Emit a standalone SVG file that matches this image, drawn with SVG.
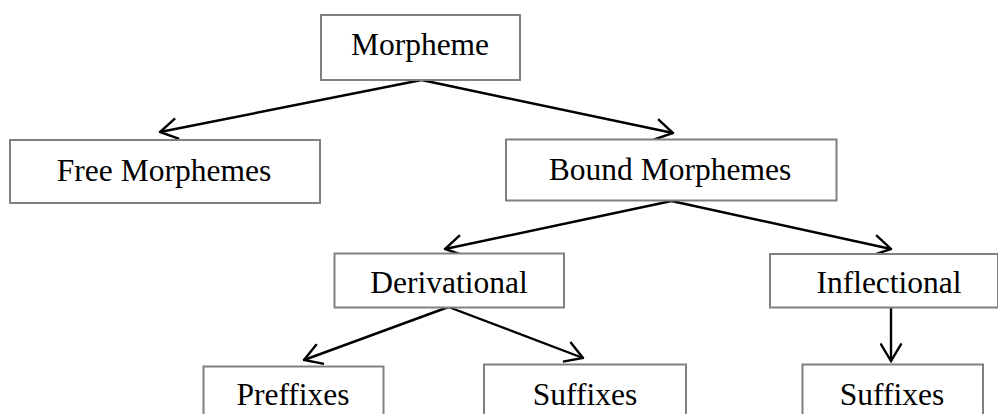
<svg xmlns="http://www.w3.org/2000/svg" width="998" height="414" viewBox="0 0 998 414">
<style>
.box{fill:#fff;stroke:#808080;stroke-width:2}
.lbl{font-family:"Liberation Serif","Times New Roman",serif;font-size:31.5px;fill:#000;text-anchor:middle}
.edge{fill:none;stroke:#000;stroke-width:2.4;marker-end:url(#arr)}
</style>
<defs>
<marker id="arr" markerUnits="userSpaceOnUse" viewBox="-1 -1 20 23" markerWidth="20" markerHeight="23" refX="17.5" refY="10.5" orient="auto">
<path d="M0,0 L17.5,10.5 L0,21" fill="none" stroke="#000" stroke-width="2.4"/>
</marker>
</defs>
<g id="connectors">
<line class="edge" x1="421.5" y1="80" x2="160" y2="132"/>
<line class="edge" x1="421.5" y1="80" x2="673" y2="133"/>
<line class="edge" x1="671.5" y1="201" x2="445" y2="249"/>
<line class="edge" x1="671.5" y1="201" x2="891" y2="249"/>
<line class="edge" x1="448.5" y1="307" x2="304" y2="360"/>
<line class="edge" x1="448.5" y1="307" x2="583" y2="358"/>
<line class="edge" x1="891" y1="307" x2="891" y2="361"/>
</g>
<g id="morpheme"><rect class="box" x="321" y="15" width="199" height="65"/><text class="lbl" x="420" y="55">Morpheme</text></g>
<g id="free"><rect class="box" x="10" y="140" width="310" height="63"/><text class="lbl" x="164" y="181">Free Morphemes</text></g>
<g id="bound"><rect class="box" x="506" y="139.5" width="330.5" height="61"/><text class="lbl" x="670" y="180">Bound Morphemes</text></g>
<g id="derivational"><rect class="box" x="334.5" y="253.5" width="229.5" height="54"/><text class="lbl" x="449" y="292.5">Derivational</text></g>
<g id="inflectional"><rect class="box" x="770" y="254" width="228" height="53.5"/><text class="lbl" x="889" y="292.5">Inflectional</text></g>
<g id="preffixes"><rect class="box" x="203.5" y="366.5" width="180" height="60"/><text class="lbl" x="293" y="405">Preffixes</text></g>
<g id="suffixes1"><rect class="box" x="484" y="364.5" width="202" height="60"/><text class="lbl" x="585" y="405">Suffixes</text></g>
<g id="suffixes2"><rect class="box" x="802.5" y="364.5" width="180.5" height="60"/><text class="lbl" x="892" y="405">Suffixes</text></g>
</svg>
